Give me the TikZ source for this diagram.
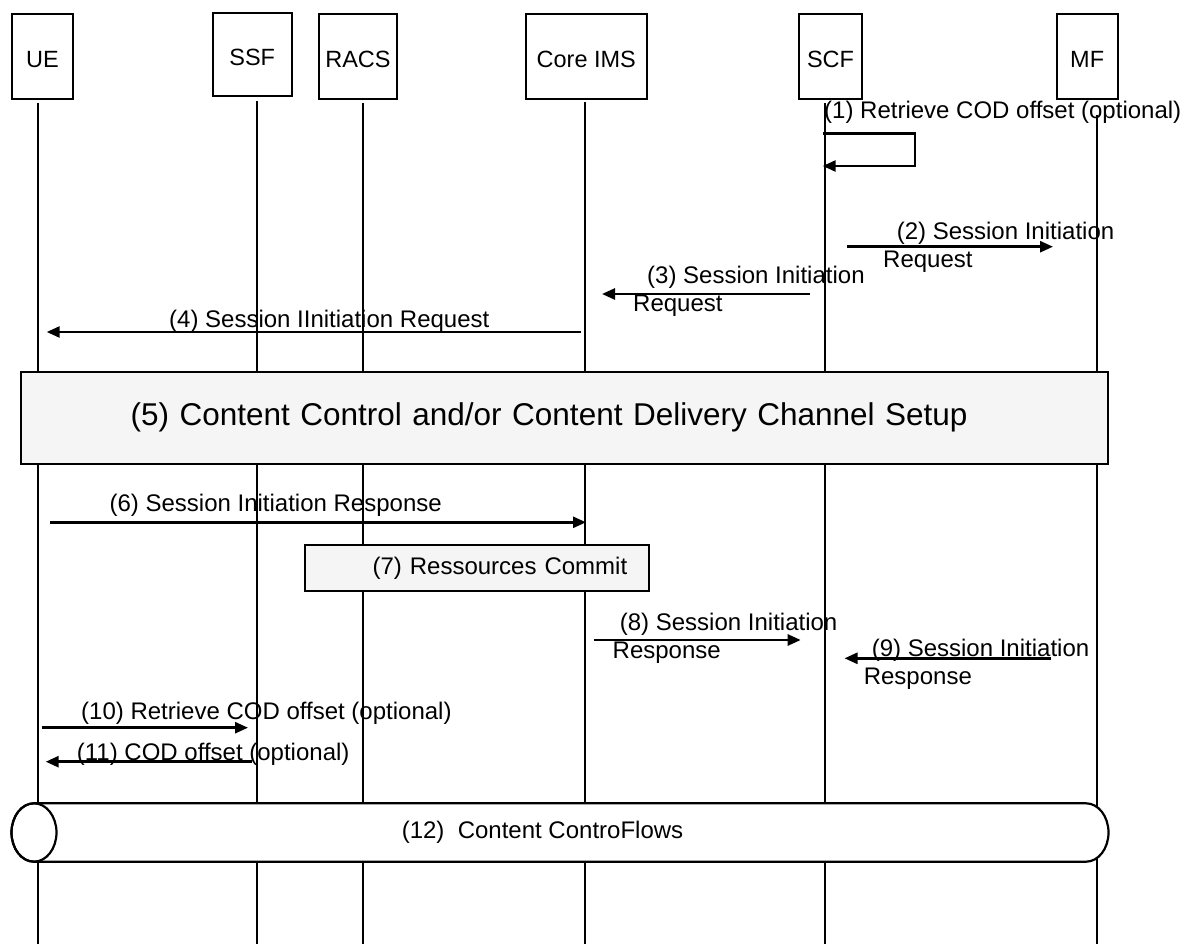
\documentclass[tikz,border=0pt]{standalone}
\usepackage{fontspec}
\setmainfont{Liberation Sans}
\usetikzlibrary{arrows.meta}

\tikzset{
  actor/.style={draw, line width=2.2pt, inner sep=0pt, text height=22pt, text depth=0pt,
    font=\fontsize{23.5}{28}\selectfont},
  life/.style={line width=1.9pt},
  msg/.style={line width=2.6pt, -{Triangle[length=13pt,width=11pt]}},
  lbl/.style={inner sep=0pt, font=\fontsize{24}{28}\selectfont, align=left},
  phase/.style={draw, line width=2.2pt, fill=black!4, inner ysep=0pt},
  tube/.style={draw, line width=2.2pt, fill=white},
}

\begin{document}
\begin{tikzpicture}[x=1pt,y=-1pt]
\useasboundingbox (0,0) rectangle (1184,944);

%lifelines
\foreach \x/\top in {38.3/103,256.7/101,363.3/103,585/102,825/103,1096.7/115}
  \draw[life] (\x,\top) -- (\x,944);

%entities
\node[actor, minimum width=61.6pt, minimum height=85pt] (ue) at (42.5,56.5) {UE};
\node[actor, minimum width=79pt, minimum height=83pt] (ssf) at (252.2,54.2) {SSF};
\node[actor, minimum width=78.6pt, minimum height=85pt] (racs) at (358,56.5) {RACS};
\node[actor, minimum width=120.7pt, minimum height=85pt] (ims) at (586.3,56.5) {Core IMS};
\node[actor, minimum width=62.4pt, minimum height=85pt] (scf) at (830.5,56.5) {SCF};
\node[actor, minimum width=61pt, minimum height=85pt] (mf) at (1087.2,56.5) {MF};

%(1) self message at SCF
\node[lbl, anchor=base west] (l1) at (824,119) {(1) Retrieve COD offset (optional)};
\coordinate (r1) at (822.7,133.3);
\coordinate (r1back) at (822.7,166);
\draw[msg] (r1) -- (915,133.3) |- (r1back);

%(2) SCF -> MF
\coordinate (s2) at (847,246.7);
\coordinate (e2) at (1053,246.7);
\draw[msg] (s2) -- (e2);
\node[lbl, anchor=north west] (l2) at (883,221.5) {\hspace*{13.6pt}(2) Session Initiation\\Request};

%(3) SCF -> Core IMS
\coordinate (s3) at (810,294);
\coordinate (e3) at (602,294);
\draw[msg] (s3) -- (e3);
\node[lbl, anchor=north west] (l3) at (633,265.5) {\hspace*{14pt}(3) Session Initiation\\Request};

%(4) Core IMS -> UE
\coordinate (s4) at (581,332);
\coordinate (e4) at (46.7,332);
\draw[msg] (s4) -- (e4);
\node[lbl, anchor=base west] (l4) at (169,327) {(4) Session IInitiation Request};

%(5)
\node[phase, minimum width=1087.4pt, minimum height=92.3pt, text width=867.4pt, inner xsep=110pt,
  align=left, font=\fontsize{31.5}{36}\selectfont] (setup) at (564.3,417.85)
  {(5) Content Control and/or Content Delivery Channel Setup};

%(6) UE -> Core IMS
\coordinate (s6) at (50,522.3);
\coordinate (e6) at (586,522.3);
\draw[msg] (s6) -- (e6);
\node[lbl, anchor=base west] (l6) at (109.4,511.7) {(6) Session Initiation Response};

%(7)
\node[phase, minimum height=45.7pt, text width=300pt, inner xsep=22pt, align=right,
  font=\fontsize{24}{28}\selectfont] (commit) at (477.25,567.85) {(7) Ressources Commit};

%(8) Core IMS -> SCF
\coordinate (s8) at (593.8,640);
\coordinate (e8) at (800.7,640);
\draw[msg] (s8) -- (e8);
\node[lbl, anchor=north west] (l8) at (612.5,612.5) {\hspace*{7.2pt}(8) Session Initiation\\Response};

%(9) MF -> SCF
\coordinate (s9) at (1051,658.3);
\coordinate (e9) at (844.5,658.3);
\draw[msg] (s9) -- (e9);
\node[lbl, anchor=north west] (l9) at (863.6,639.2) {\hspace*{8pt}(9) Session Initiation\\Response};

%(10) UE -> SSF
\coordinate (s10) at (42.3,727.7);
\coordinate (e10) at (248,727.7);
\draw[msg] (s10) -- (e10);
\node[lbl, anchor=base west] (l10) at (81,719.3) {(10) Retrieve COD offset (optional)};

%(11) SSF -> UE
\coordinate (s11) at (252,761.7);
\coordinate (e11) at (45.7,761.7);
\draw[msg] (s11) -- (e11);
\node[lbl, anchor=base west] (l11) at (76.7,760.7) {(11) COD offset (optional)};

%(12) pipe
\draw[tube] (34,803.3) -- (1086,803.3) arc[start angle=90, end angle=-90, x radius=22.5pt, y radius=29.2pt]
  -- (34,861.7) arc[start angle=270, end angle=90, x radius=22.5pt, y radius=29.2pt] -- cycle;
\draw[line width=2.2pt] (34,832.5) ellipse [x radius=22.5pt, y radius=29.2pt];
\node[lbl] (flows) at (542.5,832.5) {(12)\ \ Content ControFlows};

\end{tikzpicture}
\end{document}
